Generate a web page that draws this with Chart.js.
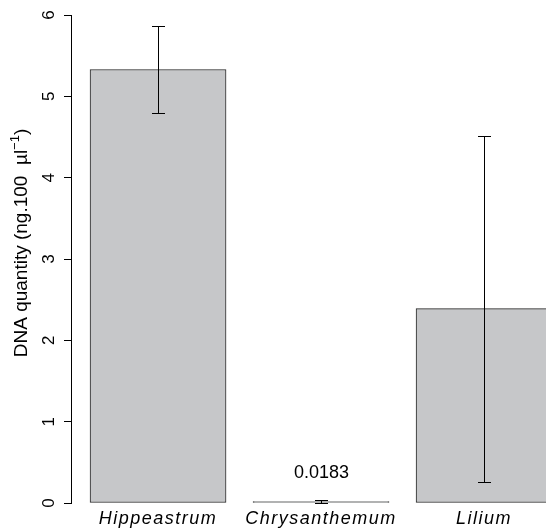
<!DOCTYPE html>
<html>
<head>
<meta charset="utf-8">
<script src="https://cdn.jsdelivr.net/npm/chart.js@4"></script>
<style>
  html, body { margin: 0; padding: 0; background: #fff; overflow: hidden; }
  canvas { display: block; }
</style>
</head>
<body>
<canvas id="chart" width="546" height="532"></canvas>
<script>
const categories = ["Hippeastrum", "Chrysanthemum", "Lilium"];
const values = [5.33, 0.0183, 2.39];
const errLow = [4.80, 0.006, 0.26];
const errHigh = [5.87, 0.031, 4.51];
const valueLabels = [null, "0.0183", null];
const yTicks = [0, 1, 2, 3, 4, 5, 6];

const FONT = "'Liberation Sans', Arial, Helvetica, sans-serif";
const INK = "#000";

// the category names in the reference are set a little loose
const looseTicks = {
  id: "looseTicks",
  beforeDraw(chart) { chart.ctx.letterSpacing = "1.5px"; },
  beforeDatasetsDraw(chart) { chart.ctx.letterSpacing = "0px"; },
};

// y tick labels, R-style: rotated, parallel to the axis
const yLabels = {
  id: "yLabels",
  afterDraw(chart) {
    const { ctx, scales: { y } } = chart;
    ctx.save();
    ctx.letterSpacing = "0px";
    ctx.fillStyle = INK;
    ctx.font = `17px ${FONT}`;
    ctx.textAlign = "center";
    ctx.textBaseline = "middle";
    for (const t of yTicks) {
      ctx.save();
      ctx.translate(48, y.getPixelForValue(t));
      ctx.rotate(-Math.PI / 2);
      ctx.fillText(String(t), 0, 1);
      ctx.restore();
    }
    // axis title with µl^-1 superscript
    const main = "DNA quantity (ng.100  \u00b5l", sup = "\u22121", tail = ")";
    ctx.font = `19px ${FONT}`;
    const wMain = ctx.measureText(main).width, wTail = ctx.measureText(tail).width;
    ctx.font = `13px ${FONT}`;
    const wSup = ctx.measureText(sup).width;
    const total = wMain + wSup + wTail;
    const cy = (y.top + y.bottom) / 2 - 16;   // R centres the expression a bit higher
    ctx.translate(22, cy);
    ctx.rotate(-Math.PI / 2);
    ctx.textAlign = "left";
    ctx.textBaseline = "middle";
    let x0 = -total / 2;
    ctx.font = `19px ${FONT}`;
    ctx.fillText(main, x0, 0);
    x0 += wMain;
    ctx.font = `13px ${FONT}`;
    ctx.fillText(sup, x0, -7);
    x0 += wSup;
    ctx.font = `19px ${FONT}`;
    ctx.fillText(tail, x0, 0);
    ctx.restore();
  }
};

// error bars + the small value label over Chrysanthemum
const errorBars = {
  id: "errorBars",
  afterDatasetsDraw(chart) {
    const { ctx, scales: { x, y } } = chart;
    ctx.save();
    ctx.letterSpacing = "0px";
    ctx.strokeStyle = INK;
    ctx.fillStyle = INK;
    ctx.lineWidth = 1;
    ctx.font = `18px ${FONT}`;
    ctx.textAlign = "center";
    ctx.textBaseline = "middle";
    categories.forEach((_, i) => {
      const px = Math.round(x.getPixelForValue(i + 1)) + 0.5;
      const lo = Math.round(y.getPixelForValue(errLow[i])) + 0.5;
      const hi = Math.round(y.getPixelForValue(errHigh[i])) + 0.5;
      ctx.beginPath();
      ctx.moveTo(px, lo); ctx.lineTo(px, hi);
      ctx.moveTo(px - 6.5, hi); ctx.lineTo(px + 6.5, hi);
      ctx.moveTo(px - 6.5, lo); ctx.lineTo(px + 6.5, lo);
      ctx.stroke();
      if (valueLabels[i]) ctx.fillText(valueLabels[i], px, hi - 27);
    });
    ctx.restore();
  }
};

new Chart(document.getElementById("chart"), {
  type: "bar",
  data: {
    datasets: [{
      data: values.map((v, i) => ({ x: i + 1, y: v })),
      backgroundColor: "#c6c7c9",
      borderColor: "#262626",
      borderWidth: 1,
      borderSkipped: false,
      barThickness: 136,
    }],
  },
  options: {
    responsive: false, animation: false, devicePixelRatio: 1,
    layout: { padding: { top: 15, left: 0, right: 0, bottom: 0 } },
    plugins: { legend: { display: false }, tooltip: { enabled: false } },
    scales: {
      x: {
        type: "linear", min: 0.466, max: 3.38, offset: false,
        afterBuildTicks: (s) => { s.ticks = categories.map((_, i) => ({ value: i + 1 })); },
        afterFit: (s) => { s.height = 29; },
        ticks: {
          callback: (v) => categories[v - 1],
          autoSkip: false, maxRotation: 0, padding: 5, color: INK,
          font: { family: FONT, size: 18, style: "italic" },
        },
        grid: { display: false, drawTicks: false },
        border: { display: false },
      },
      y: {
        min: 0, max: 6,
        afterBuildTicks: (s) => { s.ticks = yTicks.map((v) => ({ value: v })); },
        afterFit: (s) => { s.width = 71; },
        ticks: { display: false },
        grid: { drawOnChartArea: false, drawTicks: true, tickLength: 7, color: INK, lineWidth: 1 },
        border: { display: true, color: INK, width: 1 },
      },
    },
  },
  plugins: [looseTicks, errorBars, yLabels],
});
</script>
</body>
</html>
